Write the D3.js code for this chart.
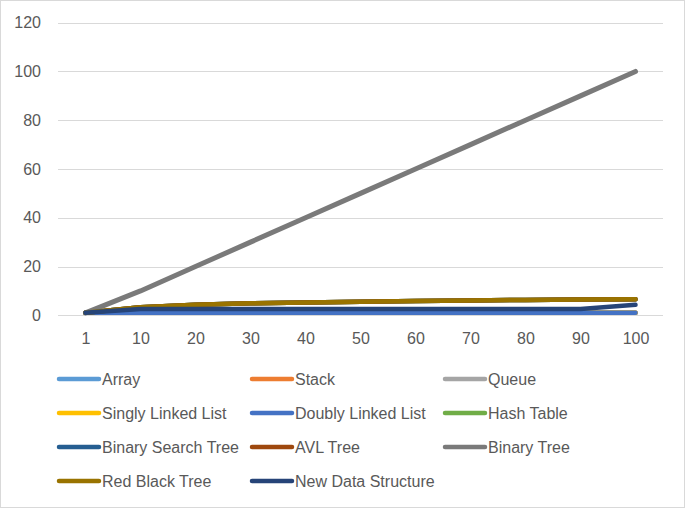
<!DOCTYPE html>
<html>
<head>
<meta charset="utf-8">
<script src="https://cdn.jsdelivr.net/npm/d3@7"></script>
<style>
    body { margin: 0; background: #fff; }
    svg text { font-family: "Liberation Sans", Arial, sans-serif; fill: #595959; }
</style>
</head>
<body>
<svg width="685" height="508"></svg>
<script>
// data
const categories = ["1", "10", "20", "30", "40", "50", "60", "70", "80", "90", "100"];
const seriesNames = ["Array", "Stack", "Queue", "Singly Linked List", "Doubly Linked List", "Hash Table",
    "Binary Search Tree", "AVL Tree", "Binary Tree", "Red Black Tree", "New Data Structure"];

const arrayVals = [1, 1, 1, 1, 1, 1, 1, 1, 1, 1, 1];
const stackVals = [1, 1, 1, 1, 1, 1, 1, 1, 1, 1, 1];
const queueVals = [1, 1, 1, 1, 1, 1, 1, 1, 1, 1, 1];
const singlyVals = [1, 1, 1, 1, 1, 1, 1, 1, 1, 1, 1];
const doublyVals = [1, 1, 1, 1, 1, 1, 1, 1, 1, 1, 1];
// hidden beneath Red Black Tree in the picture
const hashVals = [1, 3.3, 4.3, 4.9, 5.3, 5.6, 5.9, 6.1, 6.3, 6.5, 6.6];
const bstVals = [1, 3.3, 4.3, 4.9, 5.3, 5.6, 5.9, 6.1, 6.3, 6.5, 6.6];
const avlVals = [1, 3.3, 4.3, 4.9, 5.3, 5.6, 5.9, 6.1, 6.3, 6.5, 6.6];
const binaryTreeVals = [1, 10, 20, 30, 40, 50, 60, 70, 80, 90, 100];
const redBlackVals = [1, 3.3, 4.3, 4.9, 5.3, 5.6, 5.9, 6.1, 6.3, 6.5, 6.6];
const newDsVals = [1, 2.6, 2.6, 2.6, 2.6, 2.6, 2.6, 2.6, 2.6, 2.6, 4.3];

const yTicks = [0, 20, 40, 60, 80, 100, 120];

const allVals = [arrayVals, stackVals, queueVals, singlyVals, doublyVals, hashVals,
    bstVals, avlVals, binaryTreeVals, redBlackVals, newDsVals];

const colors = ["#5B9BD5", "#ED7D31", "#A5A5A5", "#FFC000", "#4472C4", "#70AD47",
    "#255E91", "#9E480E", "#7a7a7a", "#997300", "#264478"];

const svg = d3.select("svg"),
    width = +svg.attr("width"),
    height = +svg.attr("height");

// chart border
svg.append("rect")
    .attr("x", 0.5).attr("y", 0.5)
    .attr("width", width - 1).attr("height", height - 1)
    .attr("fill", "#fff")
    .attr("stroke", "#D9D9D9");

const plot = { left: 58, right: 663, top: 22.7, bottom: 315.3 };

const x = d3.scalePoint().domain(categories).range([plot.left, plot.right]).padding(0.5);
const y = d3.scaleLinear().domain([0, 120]).range([plot.bottom, plot.top]);

// gridlines
svg.append("g")
    .selectAll("line")
    .data(yTicks)
    .enter()
    .append("line")
    .attr("x1", plot.left).attr("x2", plot.right)
    .attr("y1", d => Math.round(y(d)) + 0.5).attr("y2", d => Math.round(y(d)) + 0.5)
    .attr("stroke", "#D9D9D9")
    .attr("stroke-width", 1);

// y axis
const yAxis = svg.append("g")
    .attr("transform", `translate(${plot.left}, 0)`)
    .call(d3.axisLeft(y).tickValues(yTicks).tickSize(0).tickPadding(17));
yAxis.select(".domain").remove();
yAxis.selectAll("text").style("font-size", "16px").attr("fill", "#595959");

// x axis
const xAxis = svg.append("g")
    .attr("transform", `translate(0, ${plot.bottom})`)
    .call(d3.axisBottom(x).tickSize(0).tickPadding(17));
xAxis.select(".domain").remove();
xAxis.selectAll("text").style("font-size", "16px").attr("fill", "#595959");

// lines
const line = d3.line()
    .defined(d => d.v != null)
    .x(d => x(d.c))
    .y(d => y(d.v));

allVals.forEach((vals, i) => {
    const pts = vals.map((v, j) => ({ c: categories[j], v: v }));
    svg.append("path")
        .datum(pts)
        .attr("fill", "none")
        .attr("stroke", colors[i])
        .attr("stroke-width", i === 8 ? 5 : 4.5)
        .attr("stroke-linecap", "round")
        .attr("stroke-linejoin", "round")
        .attr("d", line);
});

// legend
const legendCols = [59, 252, 445];
const legendRows = [379, 413, 447, 481];

const legend = svg.append("g");
seriesNames.forEach((name, i) => {
    const lx = legendCols[i % 3], ly = legendRows[Math.floor(i / 3)];
    legend.append("line")
        .attr("x1", lx).attr("x2", lx + 40)
        .attr("y1", ly).attr("y2", ly)
        .attr("stroke", colors[i])
        .attr("stroke-width", 4.5)
        .attr("stroke-linecap", "round");
    legend.append("text")
        .attr("x", lx + 43)
        .attr("y", ly)
        .attr("dy", "0.35em")
        .style("font-size", "16px")
        .text(name);
});
</script>
</body>
</html>
